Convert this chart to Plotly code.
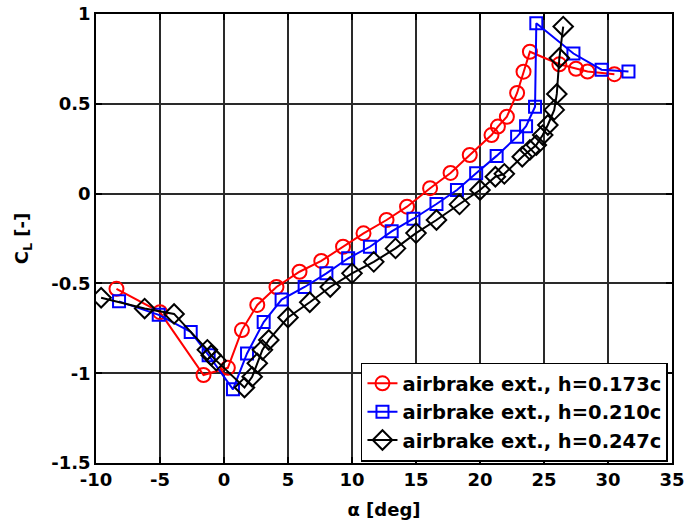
import plotly.graph_objects as go

# h = 0.173c (red circles)
alpha_173 = [-8.4, -5.0, -1.6, 0.3, 1.4, 2.6, 4.1, 5.9, 7.6, 9.3, 10.9, 12.7, 14.3, 16.1,
             17.7, 19.2, 20.9, 21.4, 22.1, 22.9, 23.4, 23.9, 26.2, 27.5, 28.4, 30.5]
cl_173 = [-0.53, -0.66, -1.01, -0.97, -0.76, -0.62, -0.52, -0.435, -0.375, -0.296, -0.221,
          -0.147, -0.073, 0.03, 0.115, 0.215, 0.326, 0.373, 0.428, 0.56, 0.679, 0.79,
          0.72, 0.695, 0.68, 0.665]

# h = 0.210c (blue squares)
alpha_210 = [-8.2, -5.1, -2.6, -1.2, 0.7, 1.8, 3.1, 4.5, 6.3, 8.0, 9.7, 11.4, 13.1, 14.8,
             16.6, 18.2, 19.7, 21.3, 22.9, 23.6, 24.3, 24.4, 27.3, 29.5, 31.6]
cl_210 = [-0.60, -0.675, -0.77, -0.90, -1.09, -0.89, -0.715, -0.59, -0.52, -0.444, -0.36,
          -0.296, -0.21, -0.14, -0.058, 0.02, 0.113, 0.21, 0.317, 0.375, 0.484, 0.948,
          0.78, 0.69, 0.68]

# h = 0.247c (black diamonds)
alpha_247 = [-9.6, -6.2, -3.9, -1.3, -1.0, -0.6, 1.6, 2.2, 2.6, 3.0, 3.5, 5.0, 6.7, 8.3,
             10.0, 11.7, 13.4, 15.0, 16.6, 18.4, 20.0, 21.2, 21.9, 23.3, 23.9, 24.4, 24.9,
             25.3, 25.8, 26.0, 26.2, 26.5]
cl_247 = [-0.58, -0.64, -0.67, -0.87, -0.90, -0.93, -1.08, -1.02, -0.945, -0.87, -0.815,
          -0.69, -0.605, -0.52, -0.444, -0.38, -0.305, -0.22, -0.147, -0.06, 0.02, 0.094,
          0.11, 0.205, 0.243, 0.27, 0.326, 0.382, 0.466, 0.555, 0.755, 0.93]

names = ["airbrake ext., h=0.173c", "airbrake ext., h=0.210c", "airbrake ext., h=0.247c"]
x_ticks = [-10, -5, 0, 5, 10, 15, 20, 25, 30, 35]
y_ticks = [-1.5, -1, -0.5, 0, 0.5, 1]
y_tick_text = ["-1.5", "-1", "-0.5", "0", "0.5", "1"]

FONT = "DejaVu Sans, sans-serif"

fig = go.Figure()
series = [
    (alpha_173, cl_173, "#ff0000", "circle-open", 14),
    (alpha_210, cl_210, "#0000ff", "square-open", 12),
    (alpha_247, cl_247, "#000000", "diamond-open", 15),
]
for (xs, ys, col, sym, sz), nm in zip(series, names):
    fig.add_trace(go.Scatter(
        x=xs, y=ys, mode="lines+markers", name=nm,
        line=dict(color=col, width=2),
        marker=dict(symbol=sym, size=sz, color=col, line=dict(color=col, width=2)),
    ))

axis_common = dict(
    showline=True, linecolor="black", linewidth=1.5, mirror="ticks",
    ticks="inside", ticklen=6, tickcolor="black", tickwidth=1.5,
    showgrid=True, gridcolor="#2a2a2a", gridwidth=1.5,
    zeroline=False, automargin=False,
    tickfont=dict(family=FONT, size=18, color="black", weight="bold"),
)

fig.update_xaxes(range=[-10, 35], tickvals=x_ticks, ticktext=[str(v) for v in x_ticks],
                 title=dict(text="α [deg]", font=dict(family=FONT, size=18, color="black", weight="bold"),
                            standoff=14),
                 **axis_common)
fig.update_yaxes(range=[-1.5, 1], tickvals=y_ticks, ticktext=y_tick_text,
                 title=dict(text="C<sub>L</sub> [-]", font=dict(family=FONT, size=18, color="black", weight="bold"),
                            standoff=18),
                 **axis_common)

fig.update_layout(
    width=690, height=529,
    margin=dict(l=96, r=18, t=14, b=66, autoexpand=False),
    paper_bgcolor="white", plot_bgcolor="white",
    showlegend=True,
    legend=dict(
        x=0.993, xanchor="right", y=0.003, yanchor="bottom",
        bgcolor="white", bordercolor="black", borderwidth=1.5,
        font=dict(family=FONT, size=19.5, color="black", weight="bold"),
        tracegroupgap=0, itemwidth=30,
    ),
)

fig.write_html("out.html")
